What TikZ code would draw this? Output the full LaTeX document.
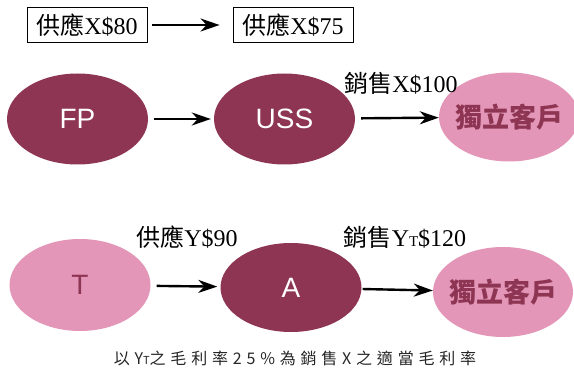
\documentclass[tikz,border=0pt]{standalone}
\usepackage{fontspec}
\setmainfont{Liberation Serif}
\newfontfamily\cjk{Noto Sans CJK TC}
\newfontfamily\cjkspaced[LetterSpace=30]{Noto Sans CJK TC}
\newfontfamily\sansfam{Liberation Sans}
\usetikzlibrary{shapes.geometric,arrows.meta}
\definecolor{maroon}{HTML}{8D3553}
\definecolor{pinkfill}{HTML}{E396B7}
\begin{document}
\begin{tikzpicture}[x=1pt,y=-1pt,
  darkell/.style={ellipse, fill=maroon, text=white, inner sep=0pt,
    minimum width=141pt, minimum height=91pt,
    font=\sansfam\fontsize{28}{28}\selectfont},
  lightell/.style={ellipse, fill=pinkfill, text=maroon, inner sep=0pt,
    minimum width=141pt, minimum height=91pt},
  custtext/.style={label={[text=maroon, font=\cjk\bfseries\fontsize{27}{27}\selectfont]center:獨立客戶}},
  tletter/.style={font=\sansfam\fontsize{28}{28}\selectfont},
  pricebox/.style={draw, line width=0.9pt, minimum width=120pt, minimum height=35pt,
    inner sep=0pt, font=\fontsize{24}{24}\selectfont},
  lbl/.style={inner sep=0pt, font=\fontsize{24}{24}\selectfont},
  note/.style={inner sep=0pt, text=black!85, font=\cjkspaced\fontsize{16}{16}\selectfont},
  arr/.style={line width=2.4pt, -{Stealth[length=19pt,width=13pt,inset=6pt]}}]
\useasboundingbox (0,0) rectangle (574,369);

% top boxes
\node[pricebox] (b1) at (87,25) {{\cjk 供應}X\$80};
\node[pricebox] (b2) at (293,25) {{\cjk 供應}X\$75};
\draw[arr, shorten <=5pt, shorten >=13pt] (b1) -- (b2);

% row 1
\node[darkell] (fp) at (77.5,119) {FP};
\node[darkell] (uss) at (284.5,119) {USS};
\node[lightell, custtext, minimum width=140pt, minimum height=89pt] (c1) at (509,117) {};
\draw[arr, shorten <=6pt, shorten >=3pt] (fp) -- (uss);
\draw[arr, shorten <=6pt] (uss) -- (c1);
\node[lbl] (l1) at (401,83) {{\cjk 銷售}X\$100};

% row 2
\node[lightell, tletter, minimum height=92pt] (t) at (80,285) {T};
\node[darkell, minimum height=89pt] (a) at (291,287.5) {A};
\node[lightell, custtext, minimum width=140pt, minimum height=90pt] (c2) at (503,292) {};
\draw[arr, shorten <=6pt, shorten >=3pt] (t) -- (a);
\draw[arr, shorten <=1pt] (a) -- (c2);
\node[lbl] (l2) at (187,237) {{\cjk 供應}Y\$90};
\node[lbl] (l3) at (405,237) {{\cjk 銷售}Y{\fontsize{15}{15}\selectfont T}\$120};

% note
\node[note] (n) at (295,358) {以Y{\fontsize{11}{11}\selectfont T}之毛利率25\%為銷售X之適當毛利率};
\end{tikzpicture}
\end{document}
